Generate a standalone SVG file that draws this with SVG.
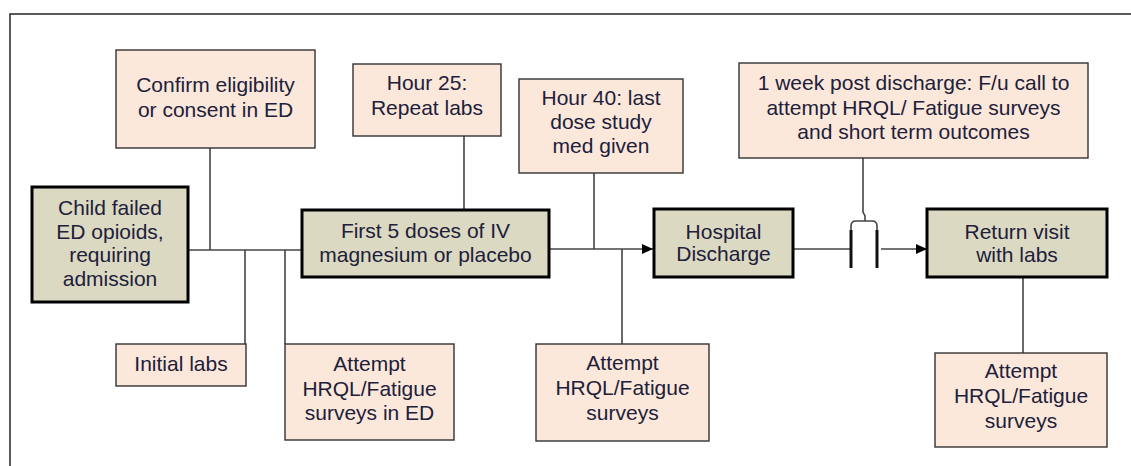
<svg xmlns="http://www.w3.org/2000/svg" width="1131" height="466" viewBox="0 0 1131 466">
<defs>
<style>
.sub{fill:#fce8da;stroke:#333;stroke-width:1.4}
.main{fill:#dcd9c3;stroke:#000;stroke-width:3}
text{font-family:"Liberation Sans",Arial,sans-serif;font-size:21px;fill:#20203a;text-anchor:middle}
.ln{fill:none;stroke:#444;stroke-width:1.6}
.thick{fill:none;stroke:#111;stroke-width:3}
</style>
<marker id="arr" markerWidth="12" markerHeight="12" refX="11" refY="6" orient="auto" markerUnits="userSpaceOnUse">
<path d="M0,1 L11,6 L0,11 Z" fill="#000"/>
</marker>
</defs>
<rect width="1131" height="466" fill="#fff"/>
<rect x="10" y="14" width="1200" height="500" fill="none" stroke="#333" stroke-width="1.6"/>

<g id="connectors">
<line class="ln" x1="188" y1="250" x2="302" y2="250"/>
<line class="ln" x1="210" y1="148" x2="210" y2="250"/>
<line class="ln" x1="245" y1="250" x2="245" y2="344"/>
<line class="ln" x1="285" y1="250" x2="285" y2="344"/>
<line class="ln" x1="464" y1="136" x2="464" y2="210"/>
<line class="ln" x1="549" y1="249" x2="653" y2="249" marker-end="url(#arr)"/>
<line class="ln" x1="594" y1="173" x2="594" y2="249"/>
<line class="ln" x1="622" y1="249" x2="622" y2="344"/>
<line class="ln" x1="793" y1="249" x2="851" y2="249"/>
<line class="ln" x1="881" y1="249" x2="927" y2="249" marker-end="url(#arr)"/>
<path class="ln" d="M863,158 V212 L865,216 V221"/>
<path class="ln" d="M851,232 V226 Q851,221 856,221 H872 Q877,221 877,226 V232"/>
<line class="thick" x1="851" y1="230" x2="851" y2="268"/>
<line class="thick" x1="877" y1="230" x2="877" y2="268"/>
<line class="ln" x1="1023" y1="277" x2="1023" y2="353"/>
</g>

<g id="confirm">
<rect class="sub" x="116" y="50" width="199" height="98"/>
<text x="215.5" y="92">Confirm eligibility</text>
<text x="215.5" y="117">or consent in ED</text>
</g>
<g id="child">
<rect class="main" x="32" y="187" width="156" height="115"/>
<text x="110" y="215">Child failed</text>
<text x="110" y="238.5">ED opioids,</text>
<text x="110" y="262">requiring</text>
<text x="110" y="285.5">admission</text>
</g>
<g id="initial-labs">
<rect class="sub" x="116" y="344" width="130" height="42"/>
<text x="181" y="371">Initial labs</text>
</g>
<g id="attempt-ed">
<rect class="sub" x="285" y="344" width="169" height="96"/>
<text x="369.5" y="371">Attempt</text>
<text x="369.5" y="395.5">HRQL/Fatigue</text>
<text x="369.5" y="420">surveys in ED</text>
</g>
<g id="hour25">
<rect class="sub" x="353" y="64" width="148" height="72"/>
<text x="427" y="90">Hour 25:</text>
<text x="427" y="115">Repeat labs</text>
</g>
<g id="first-doses">
<rect class="main" x="302" y="210" width="247" height="67"/>
<text x="425.5" y="238">First 5 doses of IV</text>
<text x="425.5" y="262">magnesium or placebo</text>
</g>
<g id="hour40">
<rect class="sub" x="519" y="79" width="164" height="94"/>
<text x="601" y="105">Hour 40: last</text>
<text x="601" y="129">dose study</text>
<text x="601" y="153">med given</text>
</g>
<g id="attempt-mid">
<rect class="sub" x="536" y="344" width="173" height="97"/>
<text x="622.5" y="370">Attempt</text>
<text x="622.5" y="395">HRQL/Fatigue</text>
<text x="622.5" y="420">surveys</text>
</g>
<g id="hospital">
<rect class="main" x="654" y="209" width="139" height="68"/>
<text x="723.5" y="239">Hospital</text>
<text x="723.5" y="261">Discharge</text>
</g>
<g id="week">
<rect class="sub" x="739" y="63" width="349" height="95"/>
<text x="913.5" y="90">1 week post discharge: F/u call to</text>
<text x="913.5" y="114.5">attempt HRQL/ Fatigue surveys</text>
<text x="913.5" y="139">and short term outcomes</text>
</g>
<g id="return">
<rect class="main" x="927" y="209" width="180" height="68"/>
<text x="1017" y="239">Return visit</text>
<text x="1017" y="262">with labs</text>
</g>
<g id="attempt-right">
<rect class="sub" x="935" y="353" width="172" height="94"/>
<text x="1021" y="378">Attempt</text>
<text x="1021" y="403">HRQL/Fatigue</text>
<text x="1021" y="428">surveys</text>
</g>
</svg>
